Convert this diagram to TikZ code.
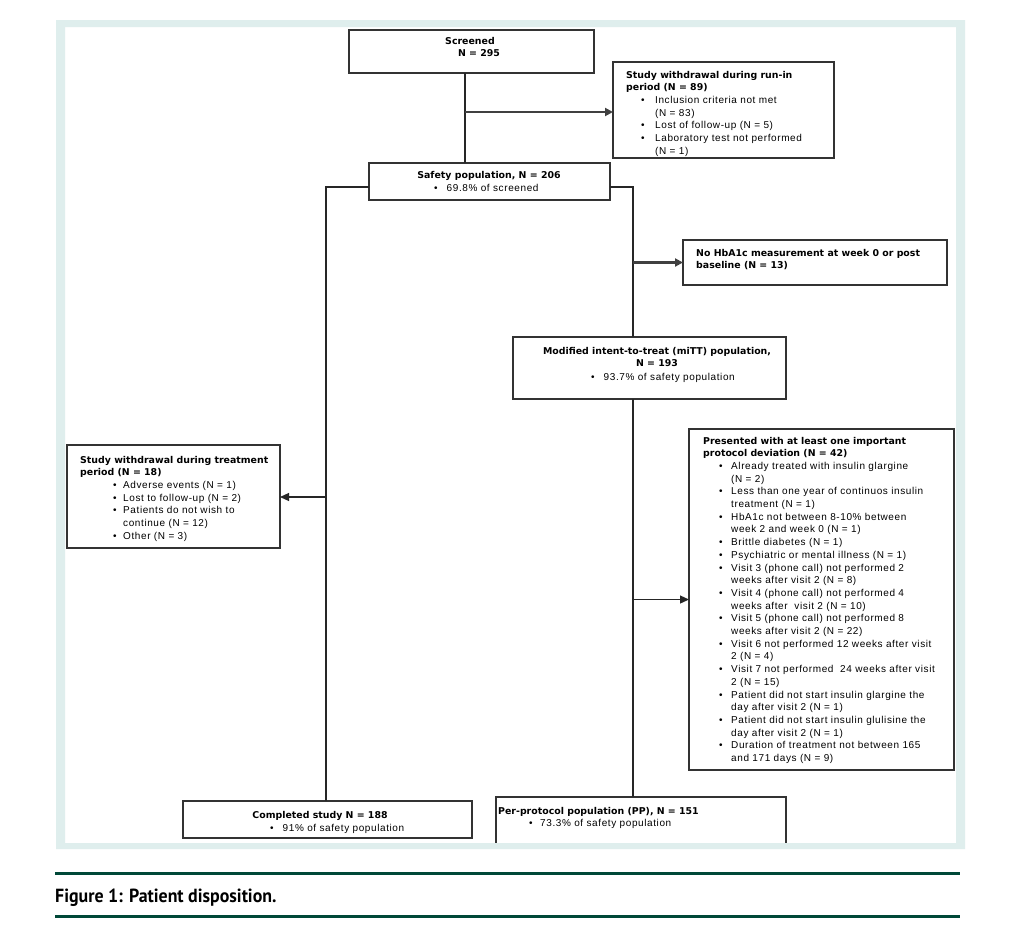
\documentclass[tikz,border=0pt]{standalone}
\usepackage{fontspec}
\setmainfont{Liberation Sans}
\newfontfamily\nfont[LetterSpace=6]{Liberation Sans}
\newfontfamily\bfontfam[Scale=0.94]{DejaVu Sans}
\newfontfamily\capfont[FakeStretch=0.94]{PT Sans}
\newcommand\hb{\bfontfam\bfseries}
\newcommand\bul[2]{\makebox[#2][l]{\hspace*{#1}\textbullet}}
\newcommand\txt[1]{\parbox[t]{300pt}{\fontsize{10pt}{12.7pt}\selectfont\nfont #1}}
\usetikzlibrary{arrows.meta}
\definecolor{frameteal}{HTML}{DFEEED}
\definecolor{rulegreen}{HTML}{004838}
\definecolor{boxline}{HTML}{333333}
\begin{document}
\begin{tikzpicture}[x=1pt,y=-1pt,
  box/.style={draw=boxline,line width=1.3pt,inner sep=0pt,outer sep=0pt,anchor=north west,fill=white},
  conn/.style={draw=black!85,line width=1.2pt},
  arrowline/.style={conn,-{Triangle[length=9pt,width=8pt]}},
  thickarrow/.style={draw=black!75,line width=2.6pt,-{Triangle[length=8pt,width=8pt]}},
  tl/.style={anchor=base west,inner sep=0pt},
  tc/.style={anchor=base,inner sep=0pt,font={\fontsize{10pt}{12.7pt}\hb}},
  tn/.style={anchor=base west,inner sep=0pt,font={\fontsize{10pt}{12.7pt}\nfont}}]
\useasboundingbox (0,0) rectangle (1032,932);
\fill[white] (0,0) rectangle (1032,932);

% boxes
\node[box,minimum width=245pt,minimum height=43pt] (screen) at (349,30) {};
\node[box,minimum width=221pt,minimum height=96pt] (runin) at (613,62) {};
\node[box,minimum width=241pt,minimum height=37pt] (safety) at (369,163) {};
\node[box,minimum width=264pt,minimum height=45pt] (nohba) at (683,240) {};
\node[box,minimum width=273pt,minimum height=62pt] (mitt) at (513,337) {};
\node[box,minimum width=213pt,minimum height=103pt] (wtreat) at (67,445) {};
\node[box,minimum width=265pt,minimum height=341pt] (pdev) at (689,429) {};
\node[box,minimum width=289pt,minimum height=37pt] (completed) at (183,801) {};
\node[box,minimum width=290pt,minimum height=48pt] (pp) at (496,797) {};

% texts
\node[tc] at (470,44) {Screened};
\node[tc] at (479,56) {N = 295};

\begin{scope}
\clip (614,63) rectangle (833,157);
\node[tl] at (626,78) {\txt{{\hb Study withdrawal during run-in}\\
{\hb period (N = 89)}\\
\bul{15pt}{29pt}Inclusion criteria not met\\
\hspace*{29pt}(N = 83)\\
\bul{15pt}{29pt}Lost of follow-up (N = 5)\\
\bul{15pt}{29pt}Laboratory test not performed\\
\hspace*{29pt}(N = 1)}};
\end{scope}

\node[tc] at (489,178) {Safety population, N = 206};
\node[tn] at (434,191) {\textbullet\hspace{9pt}69.8\% of screened};

\node[tl] at (696,256) {\txt{{\hb No HbA1c measurement at week 0 or post}\\
{\hb baseline (N = 13)}}};

\node[tc] at (657,354) {Modified intent-to-treat (miTT) population,};
\node[tc] at (657,366) {N = 193};
\node[tn] at (591,380) {\textbullet\hspace{9pt}93.7\% of safety population};

\node[tl] at (80,463) {\txt{{\hb Study withdrawal during treatment}\\
{\hb period (N = 18)}\\
\bul{33pt}{43pt}Adverse events (N = 1)\\
\bul{33pt}{43pt}Lost to follow-up (N = 2)\\
\bul{33pt}{43pt}Patients do not wish to\\
\hspace*{43pt}continue (N = 12)\\
\bul{33pt}{43pt}Other (N = 3)}};

\node[tl] at (703,444) {\txt{{\hb Presented with at least one important}\\
{\hb protocol deviation (N = 42)}\\
\bul{16pt}{28pt}Already treated with insulin glargine\\
\hspace*{28pt}(N = 2)\\
\bul{16pt}{28pt}Less than one year of continuos insulin\\
\hspace*{28pt}treatment (N = 1)\\
\bul{16pt}{28pt}HbA1c not between 8-10\% between\\
\hspace*{28pt}week 2 and week 0 (N = 1)\\
\bul{16pt}{28pt}Brittle diabetes (N = 1)\\
\bul{16pt}{28pt}Psychiatric or mental illness (N = 1)\\
\bul{16pt}{28pt}Visit 3 (phone call) not performed 2\\
\hspace*{28pt}weeks after visit 2 (N = 8)\\
\bul{16pt}{28pt}Visit 4 (phone call) not performed 4\\
\hspace*{28pt}weeks after\ \ visit 2 (N = 10)\\
\bul{16pt}{28pt}Visit 5 (phone call) not performed 8\\
\hspace*{28pt}weeks after visit 2 (N = 22)\\
\bul{16pt}{28pt}Visit 6 not performed 12 weeks after visit\\
\hspace*{28pt}2 (N = 4)\\
\bul{16pt}{28pt}Visit 7 not performed\ \ 24 weeks after visit\\
\hspace*{28pt}2 (N = 15)\\
\bul{16pt}{28pt}Patient did not start insulin glargine the\\
\hspace*{28pt}day after visit 2 (N = 1)\\
\bul{16pt}{28pt}Patient did not start insulin glulisine the\\
\hspace*{28pt}day after visit 2 (N = 1)\\
\bul{16pt}{28pt}Duration of treatment not between 165\\
\hspace*{28pt}and 171 days (N = 9)}};

\node[tc] at (320,818) {Completed study N = 188};
\node[tn] at (270,831) {\textbullet\hspace{9pt}91\% of safety population};

\node[tl] at (498,814) {\txt{{\hb Per-protocol population (PP), N = 151}\\
\bul{31pt}{42pt}73.3\% of safety population}};

% connectors
\coordinate (j1) at (465,112);
\coordinate (sl) at (326,187);
\coordinate (sr) at (633,187);
\coordinate (la) at (326,497);
\draw[conn] (screen.south -| j1) -- (safety.north -| j1);
\draw[thickarrow] (j1) -- (runin.west |- j1);
\draw[conn] (safety.west |- sl) -- (sl) -- (completed.north -| sl);
\draw[conn] (safety.east |- sr) -- (sr) -- (mitt.north -| sr);
\draw[conn] (mitt.south -| sr) -- (pp.north -| sr);
\draw[thickarrow] (nohba.west -| sr) -- (nohba.west);
\draw[arrowline] (pdev.west -| sr) -- (pdev.west);
\draw[arrowline] (la) -- (wtreat.east |- la);

% frame band
\fill[frameteal,even odd rule] (56,20) rectangle (965,849) (65,27) rectangle (956,843);

% caption
\fill[rulegreen] (55,872) rectangle (960,875);
\fill[rulegreen] (55,914.5) rectangle (960,917.5);
\node[anchor=base west,inner sep=0pt,font={\fontsize{19pt}{22pt}\capfont\bfseries}] (cap) at (55,902) {Figure 1: Patient disposition.};
\end{tikzpicture}
\end{document}
